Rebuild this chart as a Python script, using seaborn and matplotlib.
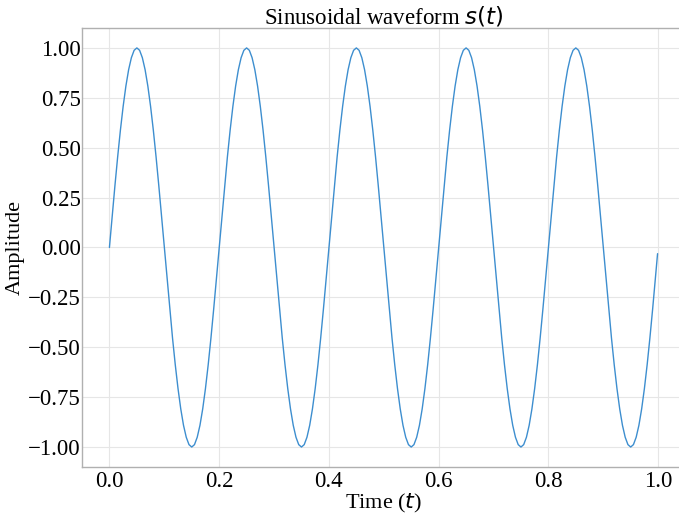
import numpy as np
import pandas as pd
import matplotlib
matplotlib.use("Agg")
import matplotlib.pyplot as plt
import seaborn as sns

# sample grid (5 ms steps) plus the last sample at t = 0.999
time = np.append(np.arange(0, 1, 0.005), 0.999)

# amplitude, one row per period
amplitude = [
    0.000, 0.156, 0.309, 0.454, 0.588, 0.707, 0.809, 0.891, 0.951, 0.988,
    1.000, 0.988, 0.951, 0.891, 0.809, 0.707, 0.588, 0.454, 0.309, 0.156,
    0.000, -0.156, -0.309, -0.454, -0.588, -0.707, -0.809, -0.891, -0.951, -0.988,
    -1.000, -0.988, -0.951, -0.891, -0.809, -0.707, -0.588, -0.454, -0.309, -0.156,
    0.000, 0.156, 0.309, 0.454, 0.588, 0.707, 0.809, 0.891, 0.951, 0.988,
    1.000, 0.988, 0.951, 0.891, 0.809, 0.707, 0.588, 0.454, 0.309, 0.156,
    0.000, -0.156, -0.309, -0.454, -0.588, -0.707, -0.809, -0.891, -0.951, -0.988,
    -1.000, -0.988, -0.951, -0.891, -0.809, -0.707, -0.588, -0.454, -0.309, -0.156,
    0.000, 0.156, 0.309, 0.454, 0.588, 0.707, 0.809, 0.891, 0.951, 0.988,
    1.000, 0.988, 0.951, 0.891, 0.809, 0.707, 0.588, 0.454, 0.309, 0.156,
    0.000, -0.156, -0.309, -0.454, -0.588, -0.707, -0.809, -0.891, -0.951, -0.988,
    -1.000, -0.988, -0.951, -0.891, -0.809, -0.707, -0.588, -0.454, -0.309, -0.156,
    0.000, 0.156, 0.309, 0.454, 0.588, 0.707, 0.809, 0.891, 0.951, 0.988,
    1.000, 0.988, 0.951, 0.891, 0.809, 0.707, 0.588, 0.454, 0.309, 0.156,
    0.000, -0.156, -0.309, -0.454, -0.588, -0.707, -0.809, -0.891, -0.951, -0.988,
    -1.000, -0.988, -0.951, -0.891, -0.809, -0.707, -0.588, -0.454, -0.309, -0.156,
    0.000, 0.156, 0.309, 0.454, 0.588, 0.707, 0.809, 0.891, 0.951, 0.988,
    1.000, 0.988, 0.951, 0.891, 0.809, 0.707, 0.588, 0.454, 0.309, 0.156,
    0.000, -0.156, -0.309, -0.454, -0.588, -0.707, -0.809, -0.891, -0.951, -0.988,
    -1.000, -0.988, -0.951, -0.891, -0.809, -0.707, -0.588, -0.454, -0.309, -0.156,
    -0.031,
]
yticks = [-1.0, -0.75, -0.5, -0.25, 0.0, 0.25, 0.5, 0.75, 1.0]
xticks = [0.0, 0.2, 0.4, 0.6, 0.8, 1.0]

df = pd.DataFrame({"t": time, "s": amplitude})

sns.set_theme(style="whitegrid")
plt.rcParams["font.family"] = ["Liberation Serif", "DejaVu Serif"]
plt.rcParams["mathtext.fontset"] = "dejavusans"
plt.rcParams["text.color"] = "black"
plt.rcParams["axes.labelcolor"] = "black"
plt.rcParams["xtick.color"] = "black"
plt.rcParams["ytick.color"] = "black"

fig = plt.figure(figsize=(6.79, 5.18), dpi=100)
ax = fig.add_axes([0.1208, 0.0985, 0.888, 0.8475])

sns.lineplot(data=df, x="t", y="s", ax=ax, color="#3d8ecf", linewidth=1.0)

ax.set_title("Sinusoidal waveform $s(t)$", fontsize=16.5, pad=3)
ax.set_xlabel("Time ($t$)", fontsize=16, labelpad=0)
ax.set_ylabel("Amplitude", fontsize=16, labelpad=2)
ax.set_yticks(yticks)
ax.set_yticklabels([f"{v:.2f}".replace("-", "\u2212") for v in yticks])
ax.set_xticks(xticks)
ax.set_xticklabels([f"{v:.1f}" for v in xticks])
ax.tick_params(labelsize=16.5, length=0)
ax.tick_params(axis="y", pad=1)
ax.tick_params(axis="x", pad=3)

ax.grid(True, color="#e6e6e6", linewidth=0.8)
for side in ["left", "bottom", "top", "right"]:
    ax.spines[side].set_visible(True)
    ax.spines[side].set_color("#b0b0b0")
    ax.spines[side].set_linewidth(1.0)

fig.savefig("out.png", dpi=100)
